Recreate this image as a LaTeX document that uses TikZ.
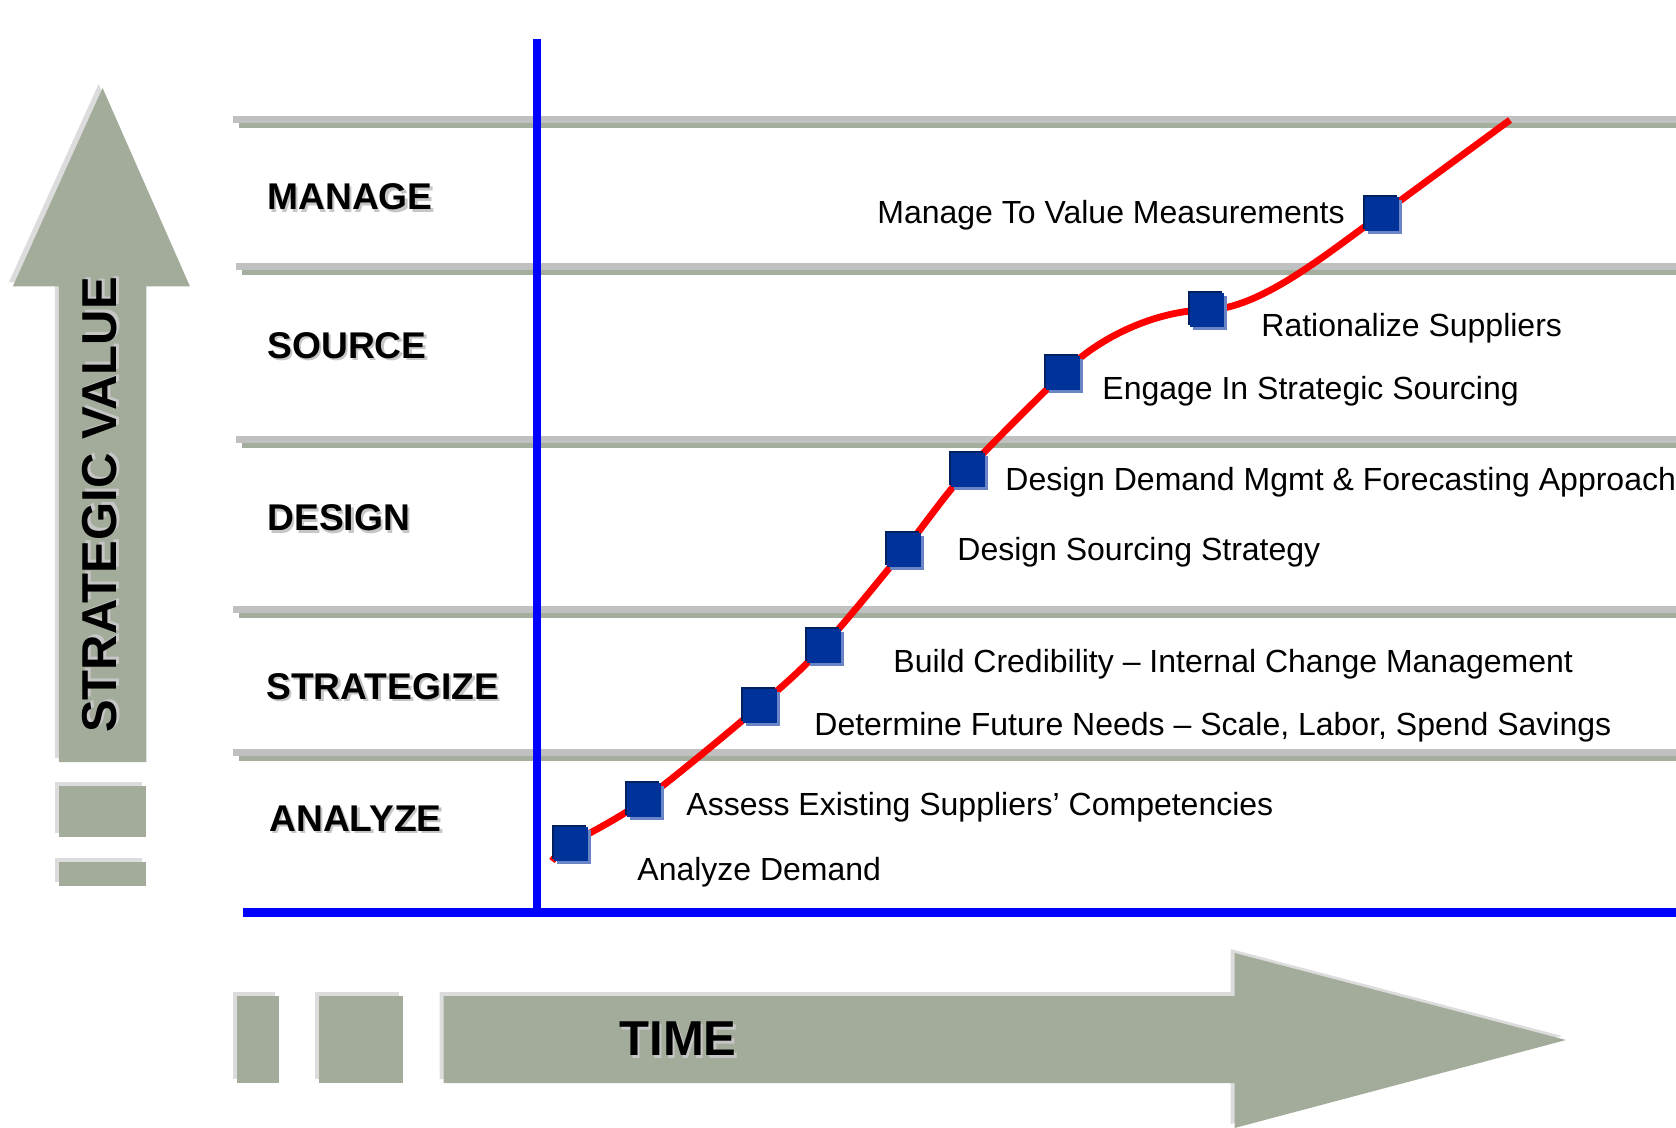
\documentclass[tikz,border=0pt]{standalone}
\usepackage{fontspec}
\setmainfont{Liberation Sans}
\usepackage{xcolor}
\usepackage{tikz}
\usetikzlibrary{positioning, shadows}

\definecolor{arrowgray}{HTML}{A3AC9B}
\definecolor{shadegray}{HTML}{DCDCDC}
\definecolor{bandgray}{HTML}{C0C0C0}
\definecolor{bandgreen}{HTML}{A4AE9E}
\definecolor{stepblue}{HTML}{003399}
\definecolor{stepdark}{HTML}{00205F}
\definecolor{steplight}{HTML}{6A85C6}

\newcommand{\shadowtext}[1]{\makebox[0pt][l]{\hspace{1.2pt}\raisebox{-1.2pt}{\textcolor{gray!45}{#1}}}#1}

\begin{document}
\begin{tikzpicture}[
            x=0.5pt, y=-0.5pt,
            stepbox/.style={fill=stepblue, minimum size=17pt, inner sep=0pt,
                general shadow={fill=stepdark, shadow xshift=-1pt, shadow yshift=1pt},
                general shadow={fill=steplight, shadow xshift=1.5pt, shadow yshift=-1.5pt}},
            steplabel/.style={inner sep=0pt, anchor=base west, font=\fontsize{16}{18}\selectfont},
            phase/.style={inner sep=0pt, anchor=base west, font=\fontsize{18.6}{22}\selectfont\bfseries},
            axislabel/.style={inner sep=0pt, font=\fontsize{24.5}{28}\selectfont\bfseries},
            axisline/.style={draw=blue, line width=4.2pt},
        ]
        \useasboundingbox (0,0) rectangle (1676,1128);

        \foreach \t/\l in {116/233, 263/236, 436/236, 606/233, 749/233} {
            \fill[bandgray] (\l,\t) rectangle (1676,\t+6.7);
            \fill[bandgreen] (\l+6,\t+6.7) rectangle (1676,\t+12.3);
        }

        \foreach \d/\col in {-4/shadegray, 0/arrowgray} {
            \begin{scope}[shift={(\d,\d)}]
                \fill[\col] (102.6,88) -- (190,286.5) -- (146.4,286.5) -- (146.4,762)
                    -- (58.8,762) -- (58.8,286.5) -- (12.8,286.5) -- cycle;
                \fill[\col] (58.8,785.7) rectangle (146.4,837);
                \fill[\col] (58.8,861.6) rectangle (146.4,886);
                \fill[\col] (443.6,996) -- (1234.6,996) -- (1234.6,953) -- (1566,1040)
                    -- (1234.6,1128) -- (1234.6,1083) -- (443.6,1083) -- cycle;
                \fill[\col] (237.3,996) rectangle (279,1083);
                \fill[\col] (318.5,996) rectangle (403,1083);
            \end{scope}
        }
        \node[axislabel, rotate=90] (value) at (101,505) {\shadowtext{STRATEGIC VALUE}};
        \node[axislabel] (time) at (678,1040) {\shadowtext{TIME}};

        \coordinate (ytop) at (537,39);
        \coordinate (origin) at (537,917);
        \coordinate (xleft) at (243,912.5);
        \coordinate (xright) at (1676,912.5);
        \draw[axisline] (ytop) -- (origin);
        \draw[axisline] (xleft) -- (xright);

        \node[phase] (manage) at (267,210) {\shadowtext{MANAGE}};
        \node[phase] (source) at (267,358.4) {\shadowtext{SOURCE}};
        \node[phase] (design) at (267,530.7) {\shadowtext{DESIGN}};
        \node[phase] (strategize) at (266,699) {\shadowtext{STRATEGIZE}};
        \node[phase] (analyze) at (269,831.4) {\shadowtext{ANALYZE}};

        \foreach \i/\p in {1/{571,844}, 2/{644,800}, 3/{759.5,706}, 4/{823.5,646}, 5/{904,550},
                6/{967.5,470}, 7/{1063,373.5}, 8/{1207,310}, 9/{1382,214}}
            \coordinate (p\i) at (\p);
        \coordinate (cstart) at (552,861);
        \coordinate (cend) at (1510,120);
        \draw[red, line width=3.4pt] plot[smooth, tension=0.55] coordinates
                {(cstart) (p1) (p2) (p3) (p4) (p5) (p6) (p7)}
            .. controls (1100,335) and (1160,310) .. (p8)
            .. controls (1260,309) and (1325,255) .. (p9) -- (cend);
        \foreach \i in {1,...,9}
            \node[stepbox] (s\i) at (p\i) {};

        \node[steplabel] (demand) at (637,880) {Analyze Demand};
        \node[steplabel] (assess) at (686,815) {Assess Existing Suppliers’ Competencies};
        \node[steplabel] (needs) at (814,735) {Determine Future Needs – Scale, Labor, Spend Savings};
        \node[steplabel] (credibility) at (893,672) {Build Credibility – Internal Change Management};
        \node[steplabel] (strategy) at (957,560) {Design Sourcing Strategy};
        \node[steplabel] (forecast) at (1005,490) {Design Demand Mgmt \& Forecasting Approach};
        \node[steplabel] (engage) at (1102,400) {Engage In Strategic Sourcing};
        \node[steplabel] (rationalize) at (1261,336.7) {Rationalize Suppliers};
        \node[steplabel, anchor=base east] (measure) at (1345,224) {Manage To Value Measurements};
        \end{tikzpicture}
\end{document}
